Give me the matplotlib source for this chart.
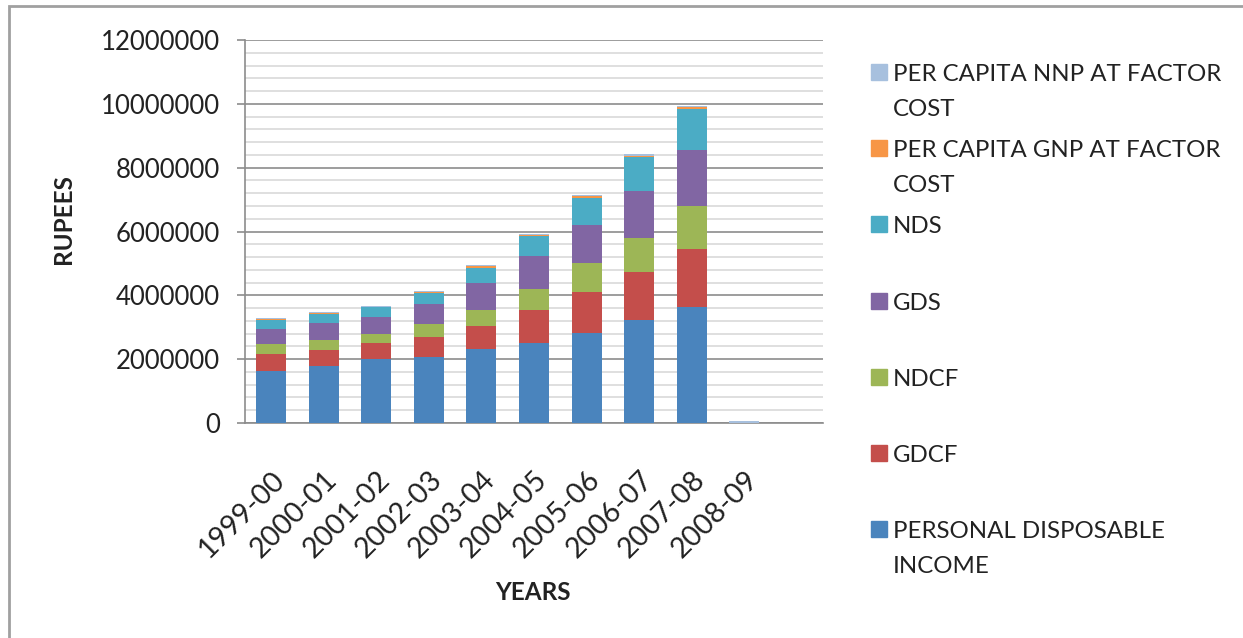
import matplotlib.pyplot as plt
from matplotlib.patches import Rectangle
from matplotlib.ticker import MultipleLocator
import numpy as np

plt.rcParams['font.family'] = ['Lato', 'DejaVu Sans']

years = ['1999-00', '2000-01', '2001-02', '2002-03', '2003-04',
         '2004-05', '2005-06', '2006-07', '2007-08', '2008-09']

# stacked components, in rupees
pdi  = [1630000, 1796000, 1996000, 2069000, 2310000, 2518000, 2832000, 3229000, 3627000, 0]
gdcf = [533000, 502000, 522000, 627000, 741000, 1025000, 1285000, 1515000, 1828000, 0]
ndcf = [314000, 314000, 272000, 397000, 492000, 668000, 889000, 1066000, 1338000, 0]
gds  = [479000, 533000, 533000, 638000, 846000, 1025000, 1201000, 1463000, 1776000, 0]
nds  = [273000, 282000, 304000, 334000, 480000, 616000, 857000, 1076000, 1275000, 0]
pc_gnp = [40000, 18000, 20000, 45000, 45000, 45000, 45000, 30000, 45000, 0]
pc_nnp = [35000, 30000, 30000, 40000, 40000, 40000, 40000, 35000, 40000, 55000]

names = ['PERSONAL DISPOSABLE\nINCOME', 'GDCF', 'NDCF', 'GDS', 'NDS',
         'PER CAPITA GNP AT FACTOR\nCOST', 'PER CAPITA NNP AT FACTOR\nCOST']
values = [pdi, gdcf, ndcf, gds, nds, pc_gnp, pc_nnp]
colors = ['#4A84BD', '#C44E4B', '#9DB656', '#8166A3', '#4BACC5', '#F79646', '#A7C0DE']

W, H = 1243, 638
fig = plt.figure(figsize=(W / 100, H / 100), dpi=100)
ax = fig.add_axes([245 / W, 1 - 423 / H, (823 - 245) / W, (423 - 40) / H])

x = np.arange(len(years))
bottom = np.zeros(len(years))
for vals, col in zip(values, colors):
    ax.bar(x, vals, width=0.57, bottom=bottom, color=col, edgecolor='none', zorder=3)
    bottom += np.array(vals)

ax.set_xlim(-0.5, 10.5)
ax.set_ylim(0, 12000000)
ax.yaxis.set_major_locator(MultipleLocator(2000000))
ax.yaxis.set_minor_locator(MultipleLocator(400000))
ax.grid(which='major', axis='y', color='#8c8c8c', lw=1.2, zorder=1)
ax.grid(which='minor', axis='y', color='#d9d9d9', lw=1.2, zorder=1)
ax.set_yticklabels([f'{int(v)}' for v in ax.get_yticks()])

for side in ['top', 'right']:
    ax.spines[side].set_visible(False)
for side in ['left', 'bottom']:
    ax.spines[side].set_color('#8c8c8c')
    ax.spines[side].set_linewidth(1.2)

ax.tick_params(axis='y', which='major', length=6, width=1.2, color='#8c8c8c',
               pad=12, labelsize=18.5, labelcolor='#222222')
ax.tick_params(axis='y', which='minor', length=0)
ax.set_xticks(x)
ax.set_xticklabels(years, rotation=45, ha='right', va='top', rotation_mode='anchor')
ax.tick_params(axis='x', length=0, pad=31, labelsize=20.5, labelcolor='#222222')

fig.text(64 / W, 1 - 219 / H, 'RUPEES', rotation=90, ha='center', va='center',
         fontsize=17.5, fontweight='bold', color='#222222')
fig.text(533 / W, 1 - 592 / H, 'YEARS', ha='center', va='center',
         fontsize=17.5, fontweight='bold', color='#222222')

# legend, top entry is the last series
for i, (name, col) in enumerate(zip(names[::-1], colors[::-1])):
    cy = 72 + 76.2 * i
    fig.add_artist(Rectangle((871 / W, 1 - (cy + 8) / H), 16 / W, 16 / H,
                             transform=fig.transFigure, color=col))
    fig.text(893 / W, 1 - (cy - 8) / H, name, ha='left', va='top',
             fontsize=17.3, color='#222222', linespacing=1.8)

# chart frame
fig.add_artist(Rectangle((9 / W, -0.1), 2, 1.1 - 6 / H, transform=fig.transFigure,
                         fill=False, ec='#a0a0a0', lw=2))

fig.savefig('out.png', dpi=100, facecolor='white')
